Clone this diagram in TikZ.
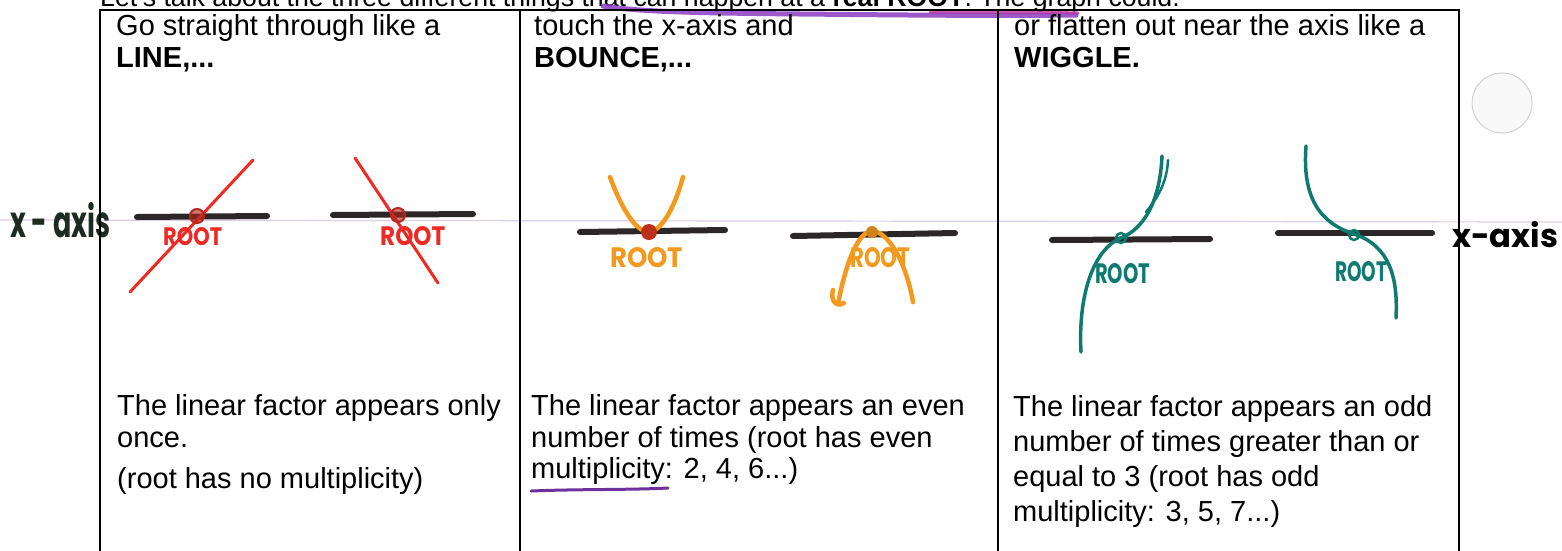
\documentclass[tikz,border=0pt]{standalone}
\usepackage{fontspec}
\setmainfont{Liberation Sans}
\newfontfamily\hwfont{Poppins}
\usepackage{graphicx}
\definecolor{axisgray}{HTML}{2B2628}
\definecolor{rootred}{HTML}{EE2A24}
\definecolor{rootdark}{HTML}{B5261C}
\definecolor{rootorange}{HTML}{F39A1E}
\definecolor{rootteal}{HTML}{0E7A70}
\definecolor{hlpurple}{HTML}{8A3CC0}
\definecolor{hlmagenta}{HTML}{B2309E}
\definecolor{ruled}{HTML}{DCCDE6}
\definecolor{labeldark}{HTML}{1D2B22}
\newcommand{\hw}[3]{\resizebox{#1}{#2}{\hwfont\bfseries #3}}
\begin{document}
\begin{tikzpicture}[x=1pt,y=-1pt,
  txt/.style={font=\fontsize{29}{33}\selectfont, inner sep=0, anchor=base west},
  hwlabel/.style={inner sep=0, anchor=north west},
  xaxisline/.style={draw=axisgray, line width=6pt, line cap=round},
  redpen/.style={draw=rootred, line width=3pt, line cap=round},
  orangepen/.style={draw=rootorange, line width=4.5pt, line cap=round, line join=round},
  tealpen/.style={draw=rootteal, line width=3.5pt, line cap=round},
  frame/.style={draw=black, line width=2pt}]
\useasboundingbox (0,0) rectangle (1562,550);
\clip (0,0) rectangle (1562,550);
\fill[white] (0,0) rectangle (1562,550);
% notebook ruled line
\draw[ruled, line width=1.2pt] (0,220) -- (1562,222);
% intro line, cut off at top as in the scan
\node[txt, font=\fontsize{26.7}{30}\selectfont] (intro) at (100,6) {Let's talk about the three different things that can happen at a \textbf{real ROOT}. The graph could:};
% purple highlighter strokes
\draw[hlpurple, line width=5pt, line cap=round, opacity=0.85] (603,6) .. controls (640,12) and (700,13) .. (800,14) .. controls (900,15) and (1000,16) .. (1076,15);
\draw[hlmagenta, line width=3pt, line cap=round, opacity=0.8] (930,12) .. controls (1000,13) and (1050,12) .. (1078,13);
% hole punch
\draw[gray!35, line width=1pt, fill=gray!5] (1502,103) circle[radius=30pt];
% left x-axis label (under the frame)
\node[hwlabel, text=labeldark] (xl) at (10,202) {\hw{100pt}{35pt}{x - axis}};
% table frame
\coordinate (c0t) at (100,10); \coordinate (c0b) at (100,560);
\coordinate (c1t) at (520,10); \coordinate (c1b) at (520,560);
\coordinate (c2t) at (998,10); \coordinate (c2b) at (998,560);
\coordinate (c3t) at (1459,10); \coordinate (c3b) at (1459,560);
\draw[frame] (c0b) -- (c0t) -- (c3t) -- (c3b);
\draw[frame] (c1t) -- (c1b);
\draw[frame] (c2t) -- (c2b);
% right x-axis label
\node[hwlabel, text=black] (xr) at (1452,221) {\hw{106pt}{26pt}{x-axis}};
% headers
\node[txt] (h1a) at (116,35) {Go straight through like a};
\node[txt] (h1b) at (116,67) {\textbf{LINE,...}};
\node[txt] (h2a) at (534,35) {touch the x-axis and};
\node[txt] (h2b) at (534,67) {\textbf{BOUNCE,...}};
\node[txt] (h3a) at (1014,35) {or flatten out near the axis like a};
\node[txt] (h3b) at (1014,67) {\textbf{WIGGLE.}};
% bottom texts
\node[txt] (b1a) at (117,415) {The linear factor appears only};
\node[txt] (b1b) at (117,447) {once.};
\node[txt] (b1c) at (117,488) {(root has no multiplicity)};
\node[txt] (b2a) at (531,415) {The linear factor appears an even};
\node[txt] (b2b) at (531,447) {number of times (root has even};
\node[txt] (b2c) at (531,478) {multiplicity: 2, 4, 6...)};
\node[txt] (b3a) at (1013,416) {The linear factor appears an odd};
\node[txt] (b3b) at (1013,451) {number of times greater than or};
\node[txt] (b3c) at (1013,486) {equal to 3 (root has odd};
\node[txt] (b3d) at (1013,521) {multiplicity: 3, 5, 7...)};
\draw[hlpurple!80!black, line width=3pt, line cap=round] (531,491) .. controls (580,489) and (630,490) .. (668,488);
% ---------- panel 1: LINE ----------
\draw[xaxisline] (137,217) -- (267,216);
\draw[redpen] (130,292) -- (253,160);
\draw[draw=rootdark, line width=2pt, fill=rootdark, fill opacity=0.6] (197,216) circle[radius=7pt];
\node[hwlabel, text=rootred] (p1r) at (163,227) {\hw{59pt}{18pt}{ROOT}};
\draw[xaxisline] (333,215) -- (473,214);
\draw[redpen] (355,158) -- (438,283);
\draw[draw=rootdark, line width=2pt, fill=rootdark, fill opacity=0.6] (398,215) circle[radius=7pt];
\node[hwlabel, text=rootred] (p1s) at (380,226) {\hw{65pt}{19pt}{ROOT}};
% ---------- panel 2: BOUNCE ----------
\draw[xaxisline] (580,232) -- (725,230);
\draw[orangepen] (610,177) .. controls (624,215) and (638,232) .. (649,232) .. controls (660,232) and (674,210) .. (683,177);
\fill[rootdark!90!orange] (649,232) circle[radius=8pt];
\node[hwlabel, text=rootorange] (p2r) at (610,247) {\hw{73pt}{20pt}{ROOT}};
\draw[xaxisline] (793,236) -- (955,233);
\draw[orangepen] (838,304) .. controls (846,262) and (858,232) .. (872,231) .. controls (888,231) and (906,262) .. (913,302);
\draw[orangepen] (833,290) .. controls (830,300) and (836,308) .. (844,303);
\fill[rootorange!85!black] (872,232) circle[radius=6pt];
\node[hwlabel, text=rootorange] (p2s) at (850,247) {\hw{60pt}{20pt}{ROOT}};
% ---------- panel 3: WIGGLE ----------
\draw[xaxisline] (1052,240) -- (1210,239);
\draw[tealpen] (1081,352) .. controls (1078,298) and (1092,250) .. (1121,238) .. controls (1145,228) and (1160,200) .. (1162,156);
\draw[tealpen, line width=2.5pt] (1146,212) .. controls (1160,195) and (1167,180) .. (1168,160);
\draw[rootteal, line width=2.5pt] (1121,238) circle[radius=5pt];
\node[hwlabel, text=rootteal] (p3r) at (1095,263) {\hw{55pt}{20pt}{ROOT}};
\draw[xaxisline] (1278,233) -- (1432,233);
\draw[tealpen] (1306,146) .. controls (1302,198) and (1320,223) .. (1354,234) .. controls (1390,246) and (1398,278) .. (1396,318);
\draw[rootteal, line width=2.5pt] (1354,235) circle[radius=5pt];
\node[hwlabel, text=rootteal] (p3s) at (1335,261) {\hw{52pt}{20pt}{ROOT}};
\end{tikzpicture}
\end{document}
